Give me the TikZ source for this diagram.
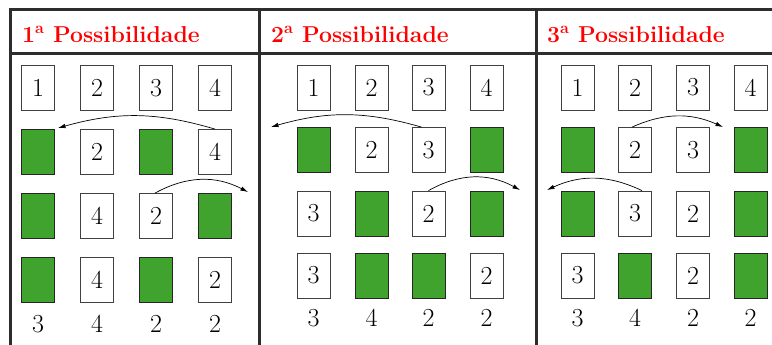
\documentclass[tikz,border=0pt]{standalone}
\usetikzlibrary{arrows.meta}
\definecolor{cardgreen}{RGB}{64,163,45}
\definecolor{rulegray}{RGB}{45,45,45}
\tikzset{
 card/.style={draw=black!75, line width=0.8pt, fill=white, minimum width=33pt, minimum height=45pt, inner sep=0pt, font=\fontsize{26}{30}\selectfont},
 gcard/.style={card, draw=black!85, fill=cardgreen},
 total/.style={anchor=base, inner sep=0pt, font=\fontsize{26}{30}\selectfont},
 head/.style={anchor=base west, inner sep=0pt, text=red, font=\fontsize{23}{28}\selectfont\bfseries},
 rule/.style={draw=rulegray, line width=3pt},
 move/.style={-{Latex[length=7.5pt,width=4.5pt]}, line width=0.7pt, black},
}
\begin{document}
\begin{tikzpicture}[x=1pt,y=1pt]
\useasboundingbox (0,0) rectangle (772,-345);
% table rules
\draw[rule] (772,-10) -- (10.5,-10) -- (10.5,-345);
\draw[rule] (10.5,-53.5) -- (772,-53.5);
\draw[rule] (259.5,-10) -- (259.5,-345);
\draw[rule] (536,-10) -- (536,-345);
% headers
\node[head] (h1) at (22,-43) {1\textsuperscript{a} Possibilidade};
\node[head] (h2) at (271,-43) {2\textsuperscript{a} Possibilidade};
\node[head] (h3) at (547,-43) {3\textsuperscript{a} Possibilidade};
% column 1
\node[card]  (a11) at (38,-88) {1};
\node[card]  (a12) at (97,-88) {2};
\node[card]  (a13) at (156,-88) {3};
\node[card]  (a14) at (215,-88) {4};
\node[gcard] (a21) at (38,-152) {};
\node[card]  (a22) at (97,-152) {2};
\node[gcard] (a23) at (156,-152) {};
\node[card]  (a24) at (215,-152) {4};
\node[gcard] (a31) at (38,-216) {};
\node[card]  (a32) at (97,-216) {4};
\node[card]  (a33) at (156,-216) {2};
\node[gcard] (a34) at (215,-216) {};
\node[gcard] (a41) at (38,-280) {};
\node[card]  (a42) at (97,-280) {4};
\node[gcard] (a43) at (156,-280) {};
\node[card]  (a44) at (215,-280) {2};
\node[total] (at1) at (38,-332) {3};
\node[total] (at2) at (97,-332) {4};
\node[total] (at3) at (156,-332) {2};
\node[total] (at4) at (215,-332) {2};
% column 2
\node[card]  (b11) at (313.5,-87.5) {1};
\node[card]  (b12) at (371.5,-87.5) {2};
\node[card]  (b13) at (428.5,-87.5) {3};
\node[card]  (b14) at (486.5,-87.5) {4};
\node[gcard] (b21) at (313.5,-150) {};
\node[card]  (b22) at (371.5,-150) {2};
\node[card]  (b23) at (428.5,-150) {3};
\node[gcard] (b24) at (486.5,-150) {};
\node[card]  (b31) at (313.5,-213.5) {3};
\node[gcard] (b32) at (371.5,-213.5) {};
\node[card]  (b33) at (428.5,-213.5) {2};
\node[gcard] (b34) at (486.5,-213.5) {};
\node[card]  (b41) at (313.5,-275.5) {3};
\node[gcard] (b42) at (371.5,-275.5) {};
\node[gcard] (b43) at (428.5,-275.5) {};
\node[card]  (b44) at (486.5,-275.5) {2};
\node[total] (bt1) at (313.5,-326) {3};
\node[total] (bt2) at (371.5,-326) {4};
\node[total] (bt3) at (428.5,-326) {2};
\node[total] (bt4) at (486.5,-326) {2};
% column 3
\node[card]  (c11) at (577.5,-87.5) {1};
\node[card]  (c12) at (635,-87.5) {2};
\node[card]  (c13) at (693,-87.5) {3};
\node[card]  (c14) at (750.5,-87.5) {4};
\node[gcard] (c21) at (577.5,-150) {};
\node[card]  (c22) at (635,-150) {2};
\node[card]  (c23) at (693,-150) {3};
\node[gcard] (c24) at (750.5,-150) {};
\node[gcard] (c31) at (577.5,-213.5) {};
\node[card]  (c32) at (635,-213.5) {3};
\node[card]  (c33) at (693,-213.5) {2};
\node[gcard] (c34) at (750.5,-213.5) {};
\node[card]  (c41) at (577.5,-275.5) {3};
\node[gcard] (c42) at (635,-275.5) {};
\node[card]  (c43) at (693,-275.5) {2};
\node[gcard] (c44) at (750.5,-275.5) {};
\node[total] (ct1) at (577.5,-326) {3};
\node[total] (ct2) at (635,-326) {4};
\node[total] (ct3) at (693,-326) {2};
\node[total] (ct4) at (750.5,-326) {2};
% moves
\coordinate (a2end) at (58,-128);
\draw[move] (a24.north) to[bend right=16] (a2end);
\coordinate (a3end) at (248,-192);
\draw[move] ([xshift=-1pt]a33.north) to[bend left=28] (a3end);
\coordinate (b2end) at (271,-127);
\draw[move] ([xshift=-7pt]b23.north) to[bend right=16] (b2end);
\coordinate (b3end) at (520,-190);
\draw[move] (b33.north) to[bend left=29] (b3end);
\coordinate (c2end) at (723,-127);
\draw[move] ([xshift=-3pt]c22.north) to[bend left=24] (c2end);
\coordinate (c3end) at (547,-190);
\draw[move] ([xshift=7pt]c32.north) to[bend right=25] (c3end);
\end{tikzpicture}
\end{document}
